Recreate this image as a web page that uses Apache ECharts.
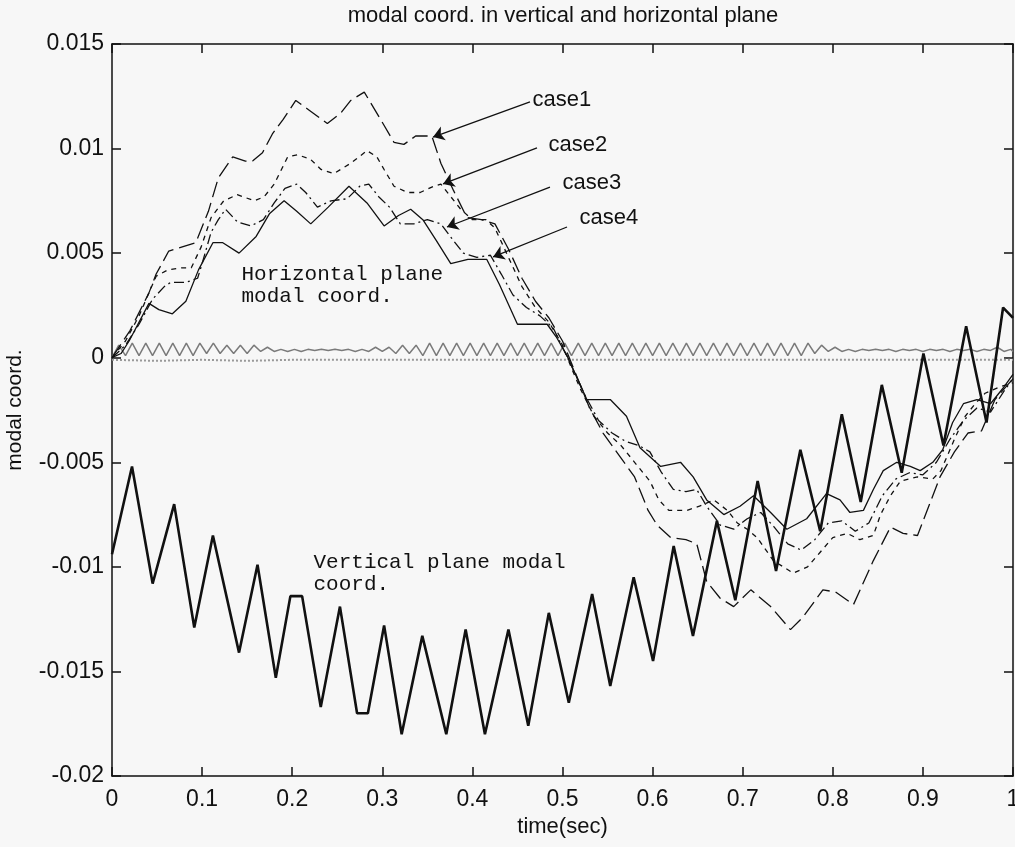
<!DOCTYPE html>
<html>
<head>
<meta charset="utf-8">
<title>modal coord. in vertical and horizontal plane</title>
<script src="https://cdn.jsdelivr.net/npm/echarts@6/dist/echarts.min.js"></script>
<style>
  html, body { margin: 0; padding: 0; background: #f7f7f7; }
  #chart { width: 1015px; height: 847px; }
</style>
</head>
<body>
<div id="chart"></div>
<script>
// vertical plane modal coord (thick line)
var vertT = [0, 0.0222, 0.0451, 0.069, 0.0913, 0.112, 0.141, 0.1615, 0.1818, 0.198, 0.211, 0.2317, 0.253, 0.272, 0.284, 0.302, 0.3215, 0.3444, 0.371, 0.3925, 0.4139, 0.44, 0.462, 0.4848, 0.507, 0.5329, 0.553, 0.579, 0.6005, 0.6234, 0.6448, 0.6714, 0.6918, 0.7166, 0.737, 0.764, 0.786, 0.81, 0.831, 0.8544, 0.8765, 0.9006, 0.9228, 0.948, 0.9706, 0.989, 1.0];
var vertV = [-0.0094, -0.0052, -0.0108, -0.0070, -0.0129, -0.0085, -0.0141, -0.0099, -0.0153, -0.0114, -0.0114, -0.0167, -0.0119, -0.0170, -0.0170, -0.0128, -0.0180, -0.0133, -0.0180, -0.0130, -0.0180, -0.0130, -0.0176, -0.0122, -0.0165, -0.0113, -0.0157, -0.0105, -0.0145, -0.0090, -0.0133, -0.0078, -0.0116, -0.0059, -0.0102, -0.0044, -0.0083, -0.0027, -0.0069, -0.0013, -0.0055, 0.0002, -0.0042, 0.0015, -0.0031, 0.0024, 0.0019];

// horizontal plane modal coord, case1..case4
var c1T = [0, 0.02, 0.041, 0.049, 0.063, 0.078, 0.093, 0.107, 0.118, 0.134, 0.148, 0.156, 0.167, 0.178, 0.19, 0.204, 0.22, 0.239, 0.254, 0.265, 0.28, 0.298, 0.313, 0.324, 0.337, 0.355, 0.365, 0.379, 0.394, 0.41, 0.425, 0.44, 0.455, 0.47, 0.485, 0.5, 0.515, 0.53, 0.545, 0.56, 0.58, 0.595, 0.605, 0.62, 0.637, 0.649, 0.66, 0.675, 0.69, 0.709, 0.731, 0.753, 0.767, 0.789, 0.803, 0.823, 0.845, 0.864, 0.878, 0.894, 0.919, 0.935, 0.95, 0.965, 0.98, 1.0];
var c1V = [0, 0.0013, 0.0031, 0.0040, 0.0051, 0.0053, 0.0055, 0.0070, 0.0086, 0.0096, 0.0094, 0.0094, 0.0098, 0.0107, 0.0114, 0.0123, 0.0118, 0.0112, 0.0117, 0.0123, 0.0127, 0.0114, 0.0103, 0.0102, 0.0106, 0.0106, 0.0093, 0.0080, 0.0067, 0.0066, 0.0064, 0.0052, 0.0038, 0.0027, 0.0019, 0.0008, -0.0008, -0.0024, -0.0036, -0.0045, -0.0057, -0.0073, -0.0080, -0.0086, -0.0087, -0.0089, -0.0107, -0.0115, -0.0119, -0.0111, -0.0119, -0.0130, -0.0124, -0.0111, -0.0112, -0.0118, -0.0097, -0.0081, -0.0084, -0.0085, -0.0057, -0.0045, -0.0036, -0.0035, -0.0020, -0.0010];

var c2T = [0, 0.015, 0.03, 0.049, 0.062, 0.077, 0.088, 0.099, 0.11, 0.124, 0.139, 0.158, 0.169, 0.18, 0.195, 0.206, 0.22, 0.232, 0.246, 0.265, 0.283, 0.294, 0.302, 0.313, 0.328, 0.342, 0.357, 0.365, 0.376, 0.387, 0.4, 0.415, 0.425, 0.44, 0.455, 0.47, 0.485, 0.5, 0.51, 0.52, 0.535, 0.55, 0.565, 0.58, 0.597, 0.607, 0.618, 0.638, 0.652, 0.668, 0.683, 0.694, 0.705, 0.716, 0.734, 0.756, 0.772, 0.786, 0.8, 0.816, 0.83, 0.845, 0.853, 0.864, 0.875, 0.894, 0.911, 0.92, 0.926, 0.936, 0.947, 0.958, 0.969, 0.985, 1.0];
var c2V = [0, 0.0008, 0.0020, 0.0039, 0.0042, 0.0043, 0.0043, 0.0053, 0.0067, 0.0075, 0.0078, 0.0075, 0.0077, 0.0083, 0.0096, 0.0097, 0.0095, 0.0090, 0.0088, 0.0093, 0.0099, 0.0096, 0.0090, 0.0082, 0.0079, 0.0079, 0.0082, 0.0083, 0.0077, 0.0071, 0.0066, 0.0066, 0.0062, 0.0048, 0.0034, 0.0024, 0.0017, 0.0006, -0.0005, -0.0015, -0.0028, -0.0036, -0.0042, -0.0050, -0.0059, -0.0068, -0.0073, -0.0073, -0.0071, -0.0068, -0.0073, -0.0079, -0.0082, -0.0086, -0.0097, -0.0103, -0.0100, -0.0093, -0.0086, -0.0084, -0.0087, -0.0085, -0.0075, -0.0066, -0.0059, -0.0057, -0.0058, -0.0054, -0.0048, -0.0038, -0.0028, -0.0022, -0.0017, -0.0014, -0.0012];

var c3T = [0, 0.015, 0.03, 0.045, 0.058, 0.065, 0.082, 0.095, 0.1, 0.11, 0.118, 0.126, 0.139, 0.154, 0.168, 0.18, 0.192, 0.205, 0.215, 0.228, 0.243, 0.261, 0.275, 0.285, 0.296, 0.308, 0.32, 0.335, 0.35, 0.365, 0.379, 0.39, 0.405, 0.42, 0.432, 0.445, 0.46, 0.475, 0.49, 0.5, 0.51, 0.525, 0.54, 0.555, 0.57, 0.585, 0.597, 0.61, 0.623, 0.637, 0.649, 0.66, 0.675, 0.69, 0.705, 0.72, 0.735, 0.75, 0.765, 0.78, 0.795, 0.81, 0.825, 0.84, 0.855, 0.87, 0.885, 0.9, 0.915, 0.93, 0.945, 0.96, 0.975, 0.99, 1.0];
var c3V = [0, 0.0006, 0.0016, 0.0028, 0.0034, 0.0036, 0.0036, 0.0038, 0.0045, 0.0060, 0.0066, 0.0071, 0.0065, 0.0063, 0.0066, 0.0074, 0.0081, 0.0083, 0.0079, 0.0072, 0.0075, 0.0076, 0.0082, 0.0083, 0.0077, 0.0072, 0.0064, 0.0064, 0.0066, 0.0064, 0.0056, 0.0050, 0.0048, 0.0049, 0.0040, 0.0030, 0.0024, 0.0020, 0.0014, 0.0005, -0.0004, -0.0018, -0.0030, -0.0036, -0.0040, -0.0042, -0.0045, -0.0055, -0.0063, -0.0064, -0.0063, -0.0071, -0.0080, -0.0082, -0.0077, -0.0074, -0.0081, -0.0089, -0.0092, -0.0087, -0.0079, -0.0078, -0.0083, -0.0079, -0.0066, -0.0058, -0.0055, -0.0056, -0.0050, -0.0039, -0.0030, -0.0024, -0.0026, -0.0016, -0.0010];

var c4T = [0, 0.01, 0.019, 0.041, 0.052, 0.067, 0.082, 0.096, 0.112, 0.123, 0.141, 0.16, 0.175, 0.191, 0.205, 0.2206, 0.24, 0.263, 0.283, 0.302, 0.318, 0.3315, 0.345, 0.36, 0.376, 0.395, 0.416, 0.43, 0.45, 0.483, 0.493, 0.505, 0.527, 0.553, 0.571, 0.586, 0.609, 0.631, 0.645, 0.66, 0.679, 0.697, 0.712, 0.731, 0.749, 0.771, 0.793, 0.808, 0.819, 0.834, 0.845, 0.856, 0.871, 0.886, 0.897, 0.911, 0.922, 0.933, 0.945, 0.96, 0.975, 0.99, 1.0];
var c4V = [0, 0.0002, 0.0008, 0.0026, 0.0023, 0.0021, 0.0027, 0.0042, 0.0055, 0.0055, 0.0050, 0.0058, 0.0069, 0.0075, 0.0070, 0.0064, 0.0072, 0.0082, 0.0074, 0.0063, 0.0068, 0.0071, 0.0066, 0.0056, 0.0045, 0.0047, 0.0047, 0.0035, 0.0016, 0.0016, 0.0010, 0.0001, -0.0020, -0.0020, -0.0028, -0.0043, -0.0052, -0.0050, -0.0057, -0.0068, -0.0075, -0.0071, -0.0066, -0.0074, -0.0082, -0.0077, -0.0065, -0.0068, -0.0074, -0.0073, -0.0063, -0.0054, -0.0050, -0.0052, -0.0054, -0.0050, -0.0044, -0.0031, -0.0022, -0.0020, -0.0022, -0.0014, -0.0008];

// small grey zigzag near zero
var zigT = [0, 0.0075, 0.015, 0.0225, 0.03, 0.0375, 0.045, 0.0525, 0.06, 0.0675, 0.075, 0.0825, 0.09, 0.0975, 0.105, 0.1125, 0.12, 0.1275, 0.135, 0.1425,
  0.15, 0.1575, 0.165, 0.1725, 0.18, 0.1875, 0.195, 0.2025, 0.21, 0.2175, 0.225, 0.2325, 0.24, 0.2475, 0.255, 0.2625, 0.27, 0.2775, 0.285, 0.2925,
  0.3, 0.3075, 0.315, 0.3225, 0.33, 0.3375, 0.345, 0.3525, 0.36, 0.3675, 0.375, 0.3825, 0.39, 0.3975, 0.405, 0.4125, 0.42, 0.4275, 0.435, 0.4425,
  0.45, 0.4575, 0.465, 0.4725, 0.48, 0.4875, 0.495, 0.5025, 0.51, 0.5175, 0.525, 0.5325, 0.54, 0.5475, 0.555, 0.5625, 0.57, 0.5775, 0.585, 0.5925,
  0.6, 0.6075, 0.615, 0.6225, 0.63, 0.6375, 0.645, 0.6525, 0.66, 0.6675, 0.675, 0.6825, 0.69, 0.6975, 0.705, 0.7125, 0.72, 0.7275, 0.735, 0.7425,
  0.75, 0.7575, 0.765, 0.7725, 0.78, 0.7875, 0.795, 0.8025, 0.81, 0.8175, 0.825, 0.8325, 0.84, 0.8475, 0.855, 0.8625, 0.87, 0.8775, 0.885, 0.8925,
  0.9, 0.9075, 0.915, 0.9225, 0.93, 0.9375, 0.945, 0.9525, 0.96, 0.9675, 0.975, 0.9825, 0.99, 0.9975, 1.0];
var zigV = [0.0000, 0.0006, 0.0001, 0.0007, 0.0001, 0.0007, 0.0001, 0.0007, 0.0001, 0.0007, 0.0001, 0.0007, 0.0001, 0.0007, 0.0002, 0.0007, 0.0002, 0.0006, 0.0002, 0.0006,
  0.0002, 0.0006, 0.0003, 0.0005, 0.0003, 0.0004, 0.0003, 0.0004, 0.0003, 0.0004, 0.00035, 0.0004, 0.00035, 0.0004, 0.00035, 0.0004, 0.0003, 0.0004, 0.0003, 0.0005,
  0.0003, 0.0005, 0.0002, 0.0006, 0.0002, 0.0006, 0.0001, 0.0007, 0.0001, 0.0007, 0.0001, 0.0007, 0.0001, 0.0007, 0.0001, 0.0007, 0.0001, 0.0007, 0.0001, 0.0007,
  0.0001, 0.0007, 0.0001, 0.0007, 0.0001, 0.0007, 0.0001, 0.0007, 0.0001, 0.0007, 0.0001, 0.0007, 0.0001, 0.0007, 0.0001, 0.0007, 0.0001, 0.0007, 0.0001, 0.0007,
  0.0001, 0.0007, 0.0001, 0.0007, 0.0001, 0.0007, 0.0001, 0.0007, 0.0001, 0.0007, 0.0001, 0.0007, 0.0001, 0.0007, 0.0001, 0.0007, 0.0001, 0.0007, 0.0001, 0.0007,
  0.0001, 0.0007, 0.0001, 0.0007, 0.0002, 0.0006, 0.0003, 0.0005, 0.0003, 0.0004, 0.0003, 0.0004, 0.00035, 0.0004, 0.00035, 0.0004, 0.0003, 0.0004, 0.00035, 0.0004,
  0.0003, 0.0004, 0.00035, 0.0004, 0.0003, 0.0004, 0.00035, 0.0004, 0.0003, 0.0004, 0.00035, 0.0005, 0.0003, 0.0004, 0.0003];

// grey dotted line just under zero
var dotT = [0, 0.05, 0.1, 0.15, 0.2, 0.25, 0.3, 0.4, 0.5, 0.6, 0.7, 0.8, 0.9, 1.0];
var dotV = [-0.0001, -0.00015, -0.0001, -0.00015, -0.0001, -0.0001, -0.0001, -0.0001, -0.0001, -0.0001, -0.0001, -0.0001, -0.0001, -0.0001];

// annotation text anchors (data coords)
var caseNames = ['case1', 'case2', 'case3', 'case4'];
var caseLabelT = [0.4673, 0.485, 0.5006, 0.5194];
var caseLabelV = [0.01232, 0.01017, 0.00835, 0.00668];
var arrowFromT = [0.4639, 0.4717, 0.4861, 0.505];
var arrowFromV = [0.01223, 0.01003, 0.00816, 0.00625];
var arrowToT = [0.3563, 0.3674, 0.3718, 0.4229];
var arrowToV = [0.01055, 0.00831, 0.00625, 0.00482];
var noteText = ['Horizontal plane\nmodal coord.', 'Vertical plane modal\ncoord.'];
var noteT = [0.1443, 0.2242];
var noteV = [0.00343, -0.01034];

function pairs(t, v) {
  return t.map(function (x, i) { return [x, v[i]]; });
}

var font = "'Liberation Sans', Arial, sans-serif";
var mono = "'Liberation Mono', 'DejaVu Sans Mono', monospace";
var ink = '#111';

var myChart = echarts.init(document.getElementById('chart'));

var axisLine = { show: true, onZero: false, lineStyle: { color: ink, width: 1.5 } };
var axisTick = { show: true, inside: true, length: 9, lineStyle: { color: ink, width: 1.5 } };

function caseLine(name, t, v, dash) {
  return {
    name: name,
    type: 'line',
    data: pairs(t, v),
    showSymbol: false,
    symbol: 'none',
    lineStyle: { color: ink, width: 1.3, type: dash },
    z: 4
  };
}

var arrows = [];
for (var i = 0; i < 4; i++) {
  arrows.push([{ coord: [arrowFromT[i], arrowFromV[i]] }, { coord: [arrowToT[i], arrowToV[i]] }]);
}

var option = {
  backgroundColor: '#f7f7f7',
  animation: false,
  title: {
    text: 'modal coord. in vertical and horizontal plane',
    left: 563,
    top: 5,
    textAlign: 'center',
    padding: 0,
    textStyle: { fontFamily: font, fontSize: 22, fontWeight: 'normal', color: ink }
  },
  grid: { left: 112, right: 2, top: 44, bottom: 71, outerBoundsMode: 'none' },
  xAxis: [
    {
      type: 'value', min: 0, max: 1, interval: 0.1, position: 'bottom',
      name: 'time(sec)', nameLocation: 'middle', nameGap: 39,
      nameTextStyle: { fontFamily: font, fontSize: 22, color: ink },
      axisLine: axisLine, axisTick: axisTick,
      axisLabel: {
        margin: 12, fontFamily: font, fontSize: 23, color: ink,
        showMinLabel: true, showMaxLabel: true,
        formatter: function (v) { return String(+v.toFixed(2)); }
      },
      splitLine: { show: false }
    },
    {
      type: 'value', min: 0, max: 1, interval: 0.1, position: 'top',
      axisLine: axisLine, axisTick: axisTick,
      axisLabel: { show: false }, splitLine: { show: false }
    }
  ],
  yAxis: [
    {
      type: 'value', min: -0.02, max: 0.015, interval: 0.005, position: 'left',
      name: 'modal coord.', nameLocation: 'middle', nameGap: 86, nameRotate: 90,
      nameTextStyle: { fontFamily: font, fontSize: 21, color: ink },
      axisLine: axisLine, axisTick: axisTick,
      axisLabel: {
        margin: 8, fontFamily: font, fontSize: 23, color: ink,
        showMinLabel: true, showMaxLabel: true,
        formatter: function (v) { return String(+v.toFixed(3)); }
      },
      splitLine: { show: false }
    },
    {
      type: 'value', min: -0.02, max: 0.015, interval: 0.005, position: 'right',
      axisLine: axisLine, axisTick: axisTick,
      axisLabel: { show: false }, splitLine: { show: false }
    }
  ],
  series: [
    {
      name: 'zero dotted', type: 'line', data: pairs(dotT, dotV), symbol: 'none',
      lineStyle: { color: '#999', width: 2, type: [2, 2] }, z: 2
    },
    {
      name: 'zigzag', type: 'line', data: pairs(zigT, zigV), symbol: 'none',
      lineStyle: { color: '#7a7a7a', width: 1.5 }, z: 2
    },
    caseLine('case1', c1T, c1V, [16, 6]),
    caseLine('case2', c2T, c2V, [5, 5]),
    caseLine('case3', c3T, c3V, [10, 4, 2, 4]),
    caseLine('case4', c4T, c4V, 'solid'),
    {
      name: 'vertical', type: 'line', data: pairs(vertT, vertV), symbol: 'none',
      lineStyle: { color: ink, width: 2.6 }, z: 5
    },
    {
      name: 'arrows', type: 'line', data: [], symbol: 'none',
      markLine: {
        silent: true, animation: false,
        symbol: ['none', 'arrow'], symbolSize: 11,
        label: { show: false },
        lineStyle: { color: ink, width: 1.3, type: 'solid' },
        data: arrows
      },
      z: 6
    },
    {
      name: 'case labels', type: 'scatter', symbolSize: 1,
      itemStyle: { color: 'rgba(0,0,0,0)', opacity: 1 },
      data: caseNames.map(function (n, k) { return [caseLabelT[k], caseLabelV[k], n]; }),
      label: {
        show: true, position: [0, 0], align: 'left', verticalAlign: 'middle',
        fontFamily: font, fontSize: 22, color: ink, opacity: 1,
        formatter: function (p) { return p.value[2]; }
      },
      z: 7
    },
    {
      name: 'notes', type: 'scatter', symbolSize: 1,
      itemStyle: { color: 'rgba(0,0,0,0)', opacity: 1 },
      data: noteText.map(function (n, k) { return [noteT[k], noteV[k], n]; }),
      label: {
        show: true, position: [0, 0], align: 'left', verticalAlign: 'middle',
        fontFamily: mono, fontSize: 21, lineHeight: 22, color: ink, opacity: 1,
        formatter: function (p) { return p.value[2]; }
      },
      z: 7
    }
  ]
};

myChart.setOption(option);
window.addEventListener('resize', function () {
  myChart.resize();
});
</script>
</body>
</html>
